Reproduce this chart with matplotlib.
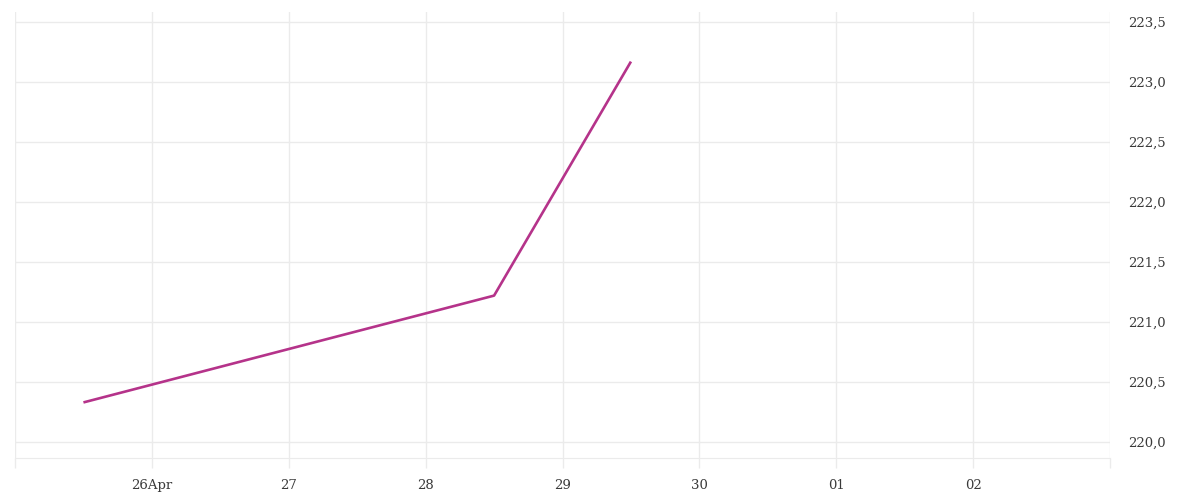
import matplotlib
matplotlib.use("Agg")
import matplotlib.pyplot as plt
import matplotlib.dates as mdates
import matplotlib.ticker as ticker
from datetime import datetime, timedelta

# values
dates = ["2024-04-25 12:00", "2024-04-28 12:00", "2024-04-29 12:00"]
values = [220.33, 221.22, 223.17]

tick_days = ["2024-04-25", "2024-04-26", "2024-04-27", "2024-04-28", "2024-04-29",
             "2024-04-30", "2024-05-01", "2024-05-02", "2024-05-03"]
tick_labels = ["", "26Apr", "27", "28", "29", "30", "01", "02", ""]

y_ticks = [220.0, 220.5, 221.0, 221.5, 222.0, 222.5, 223.0, 223.5]

grid_col = "#ebebeb"
text_col = "#3a3a3a"
line_col = "#b5338a"


def plot_series(t, val):
    fig = plt.figure(figsize=(12, 5), dpi=100)
    ax = fig.add_axes([15 / 1200, 1 - 458 / 500, 1095 / 1200, 446 / 500])
    ax.plot(t, val, color=line_col, lw=1.9, solid_capstyle="butt")

    ticks = [datetime.strptime(d, "%Y-%m-%d") for d in tick_days]
    ax.set_xlim(ticks[0], ticks[-1])
    ax.xaxis.set_major_locator(ticker.FixedLocator(mdates.date2num(ticks)))
    ax.xaxis.set_major_formatter(ticker.FixedFormatter(tick_labels))
    ax.set_ylim(219.867, 223.583)
    ax.yaxis.set_major_locator(ticker.FixedLocator(y_ticks))
    ax.yaxis.set_major_formatter(
        ticker.FuncFormatter(lambda v, p: f"{v:.1f}".replace(".", ",")))
    ax.yaxis.tick_right()

    ax.grid(True, color=grid_col, lw=1)
    for s in ["top", "left", "right"]:
        ax.spines[s].set_visible(False)
    ax.spines["bottom"].set_color(grid_col)
    ax.tick_params(axis="x", length=7.5, width=1, color=grid_col, pad=7.5,
                   labelsize=9.5, labelcolor=text_col)
    ax.tick_params(axis="y", length=0, pad=13, labelsize=9.5, labelcolor=text_col)
    for lab in ax.get_xticklabels() + ax.get_yticklabels():
        lab.set_family("DejaVu Serif")

    fig.savefig("out.png", dpi=100)


if __name__ == "__main__":
    t = [datetime.strptime(d, "%Y-%m-%d %H:%M") for d in dates]
    plot_series(t, values)
